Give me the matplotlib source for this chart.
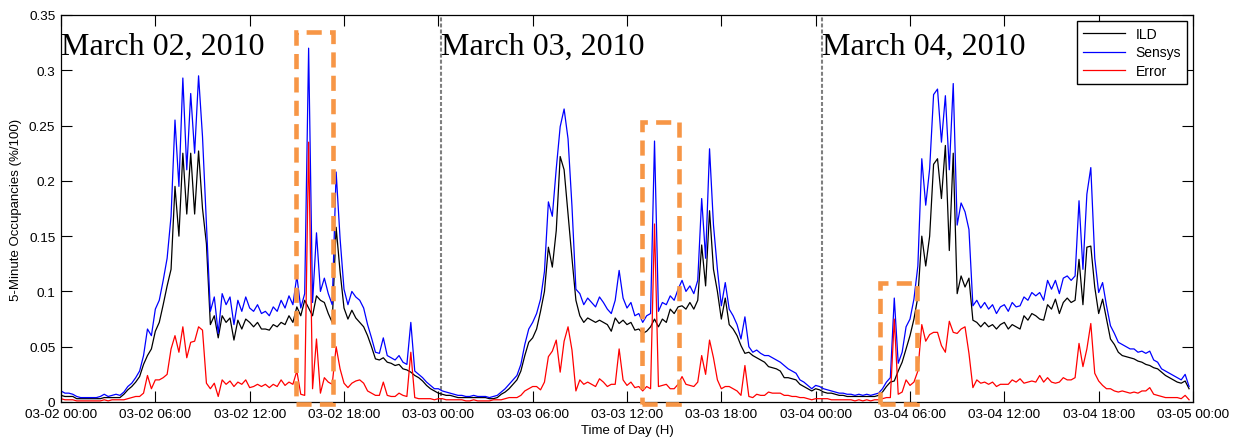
import datetime as dt

import numpy as np
import matplotlib
matplotlib.use("Agg")
import matplotlib.pyplot as plt
import matplotlib.dates as mdates
from matplotlib.patches import Rectangle
from matplotlib.ticker import FormatStrFormatter, MultipleLocator

# occupancy readings, 15-minute steps, in units of 1e-3 (fraction occupied)
ild_mar02 = [
    6, 5, 5, 5, 3, 3, 3, 3, 3, 3, 3, 4, 4, 4, 4, 4,
    7, 11, 14, 18, 23, 34, 42, 48, 64, 72, 88, 105, 120, 195, 150, 225,
    170, 225, 170, 227, 175, 143, 70, 78, 58, 78, 72, 76, 56, 74, 66, 75,
    72, 68, 72, 66, 66, 65, 70, 68, 72, 70, 78, 72, 86, 78, 92, 85,
    78, 96, 92, 90, 80, 72, 158, 118, 85, 75, 83, 76, 72, 68, 60, 50,
    39, 38, 40, 36, 35, 33, 34, 30, 29, 27, 24, 22, 19, 15, 12, 10,
]
sensys_mar02 = [
    10, 8, 8, 7, 5, 4, 4, 4, 4, 4, 5, 7, 5, 6, 7, 6,
    9, 14, 17, 22, 28, 42, 66, 60, 84, 92, 110, 130, 168, 255, 195, 293,
    210, 279, 225, 295, 240, 160, 82, 95, 62, 98, 88, 95, 70, 92, 82, 95,
    85, 82, 88, 80, 82, 78, 86, 82, 92, 85, 96, 88, 114, 85, 98, 320,
    90, 153, 100, 112, 98, 88, 208, 148, 102, 88, 100, 95, 92, 85, 70, 58,
    45, 44, 58, 42, 40, 38, 42, 36, 34, 72, 28, 25, 22, 18, 15, 12,
]
error_mar02 = [
    3, 2, 2, 2, 1, 1, 1, 1, 1, 1, 1, 2, 1, 2, 2, 2,
    2, 3, 4, 5, 5, 8, 24, 12, 20, 20, 22, 25, 48, 60, 45, 68,
    40, 54, 55, 68, 65, 17, 12, 17, 5, 20, 16, 19, 14, 18, 16, 20,
    13, 14, 16, 14, 16, 13, 16, 14, 20, 15, 18, 16, 28, 7, 6, 235,
    12, 57, 8, 22, 18, 16, 50, 30, 17, 13, 17, 19, 20, 17, 10, 8,
    6, 6, 18, 6, 5, 5, 8, 6, 5, 45, 4, 3, 3, 3, 3, 2,
]

ild_mar03 = [
    8, 7, 6, 6, 5, 4, 4, 4, 4, 4, 4, 4, 4, 3, 3, 4,
    7, 9, 12, 16, 20, 28, 42, 54, 58, 66, 82, 100, 140, 122, 155, 222,
    210, 170, 130, 92, 78, 72, 76, 74, 72, 74, 72, 70, 64, 76, 71, 74,
    70, 72, 65, 66, 62, 64, 68, 75, 68, 75, 72, 84, 80, 86, 87, 84,
    90, 84, 92, 142, 105, 173, 120, 100, 75, 94, 70, 66, 60, 51, 44, 45,
    42, 40, 38, 36, 32, 31, 30, 28, 22, 22, 21, 20, 16, 14, 12, 10,
]
sensys_mar03 = [
    12, 10, 9, 8, 7, 6, 6, 5, 5, 6, 5, 5, 5, 4, 5, 6,
    9, 12, 16, 20, 24, 34, 52, 66, 72, 80, 93, 118, 181, 168, 211, 249,
    265, 238, 177, 102, 98, 88, 94, 90, 86, 95, 90, 84, 80, 92, 119, 94,
    85, 90, 78, 80, 72, 78, 80, 236, 82, 90, 88, 96, 92, 102, 110, 100,
    105, 98, 110, 184, 130, 229, 160, 120, 87, 108, 84, 78, 70, 57, 77, 50,
    45, 47, 44, 42, 42, 40, 38, 36, 33, 30, 28, 26, 20, 18, 15, 12,
]
error_mar03 = [
    3, 3, 2, 2, 2, 2, 2, 1, 1, 2, 1, 1, 1, 1, 2, 2,
    2, 3, 4, 4, 4, 6, 10, 12, 14, 14, 11, 18, 41, 46, 56, 27,
    55, 68, 47, 10, 20, 16, 18, 16, 14, 21, 18, 14, 16, 16, 48, 20,
    15, 18, 13, 14, 10, 14, 12, 161, 14, 15, 16, 12, 12, 16, 23, 16,
    15, 14, 18, 42, 25, 56, 40, 20, 12, 14, 14, 12, 10, 6, 33, 5,
    4, 7, 6, 6, 9, 8, 8, 8, 6, 6, 5, 5, 4, 4, 3, 2,
]

ild_mar04 = [
    12, 11, 9, 8, 8, 7, 6, 6, 5, 5, 5, 5, 5, 5, 5, 5,
    6, 9, 14, 18, 19, 28, 36, 48, 60, 75, 95, 150, 123, 150, 215, 220,
    184, 232, 137, 225, 98, 114, 104, 112, 74, 72, 68, 72, 68, 70, 66, 70,
    72, 66, 70, 68, 66, 78, 74, 80, 78, 75, 74, 88, 84, 93, 80, 90,
    94, 90, 92, 129, 88, 140, 141, 104, 80, 93, 75, 57, 52, 45, 42, 41,
    40, 39, 37, 36, 34, 33, 31, 30, 27, 24, 22, 20, 18, 17, 19, 12,
]
sensys_mar04 = [
    15, 14, 12, 11, 10, 9, 8, 8, 7, 7, 6, 7, 6, 7, 6, 7,
    8, 12, 18, 22, 94, 35, 45, 68, 75, 93, 123, 220, 178, 211, 278, 283,
    235, 277, 210, 288, 160, 180, 172, 156, 87, 92, 85, 90, 84, 88, 80, 86,
    88, 82, 90, 86, 87, 95, 92, 99, 96, 99, 92, 110, 102, 110, 98, 112,
    114, 110, 114, 182, 120, 188, 212, 130, 99, 108, 87, 69, 62, 54, 52, 50,
    48, 48, 45, 46, 44, 46, 38, 36, 30, 28, 26, 24, 22, 20, 25, 14,
]
error_mar04 = [
    3, 3, 3, 3, 2, 2, 2, 2, 2, 2, 1, 2, 1, 2, 1, 2,
    2, 3, 4, 4, 75, 7, 9, 20, 15, 18, 28, 70, 55, 61, 63, 63,
    51, 45, 73, 63, 62, 66, 68, 44, 13, 20, 17, 18, 16, 18, 14, 16,
    16, 16, 20, 18, 21, 17, 18, 19, 18, 24, 18, 22, 18, 17, 18, 22,
    20, 20, 22, 53, 32, 48, 71, 26, 19, 15, 12, 12, 10, 9, 10, 9,
    8, 9, 8, 10, 10, 13, 7, 6, 5, 4, 4, 4, 4, 3, 6, 2,
]

series_names = ["ILD", "Sensys", "Error"]
day_titles = ["March 02, 2010", "March 03, 2010", "March 04, 2010"]
day_starts_h = [0.0, 24.2, 48.43]        # hours since 03-02 00:00
suspect_windows = [(14.95, 17.3, 0.3346), (36.94, 39.31, 0.2532), (52.1, 54.47, 0.1079)]

START = dt.datetime(2010, 3, 2)
STEP_MIN = 15

ild = np.array(ild_mar02 + ild_mar03 + ild_mar04) / 1000
sensys = np.array(sensys_mar02 + sensys_mar03 + sensys_mar04) / 1000
error = np.array(error_mar02 + error_mar03 + error_mar04) / 1000

x0 = mdates.date2num(START)
t = x0 + np.arange(len(ild)) * STEP_MIN / 1440.0


def hx(h):
    return x0 + h / 24.0


plt.rcParams["font.family"] = ["Liberation Sans", "DejaVu Sans"]

fig = plt.figure(figsize=(12.44, 4.39), dpi=100)
ax = fig.add_axes([61 / 1244, 36 / 439, 1132 / 1244, 387 / 439])

ax.plot(t, ild, color="black", lw=0.9, label=series_names[0])
ax.plot(t, sensys, color="#0000ff", lw=0.9, label=series_names[1])
ax.plot(t, error, color="#ff0000", lw=0.9, label=series_names[2])

for h in day_starts_h[1:]:
    ax.axvline(hx(h), color="#7f7f7f", lw=1.5, ls=(0, (1.9, 1.0)), zorder=1)

for h, title in zip(day_starts_h, day_titles):
    ax.text(hx(h), 0.3147, title, family=["Liberation Serif", "DejaVu Serif"],
            fontsize=23, ha="left", va="baseline")

for h0, h1, top in suspect_windows:
    ax.add_patch(Rectangle((hx(h0), -0.0018), (h1 - h0) / 24.0, top + 0.0018,
                           fill=False, ec="#F79646", lw=3.3, ls=(0, (3.3, 1.8)),
                           clip_on=False, zorder=6))

ax.set_xlim(x0, x0 + 3)
ax.set_ylim(0, 0.35)
ax.xaxis.set_major_locator(mdates.HourLocator(byhour=[0, 6, 12, 18]))
ax.xaxis.set_major_formatter(mdates.DateFormatter("%m-%d %H:%M"))
ax.yaxis.set_major_locator(MultipleLocator(0.05))
ax.yaxis.set_major_formatter(FormatStrFormatter("%g"))
ax.tick_params(direction="in", top=True, right=True, length=8, width=0.8,
               labelsize=9.7, pad=4)
for s in ax.spines.values():
    s.set_linewidth(0.9)

ax.set_xlabel("Time of Day (H)", fontsize=9.5)
ax.set_ylabel("5-Minute Occupancies (%/100)", fontsize=9.5)
ax.xaxis.set_label_coords(0.5, -0.058)
ax.yaxis.set_label_coords(-0.0345, 0.5)

leg = ax.legend(loc="upper right", fontsize=10, fancybox=False, framealpha=1,
                edgecolor="black", handlelength=3, labelspacing=0.33,
                borderaxespad=0.45)
leg.get_frame().set_linewidth(1.0)

fig.savefig("out.png", dpi=100)
